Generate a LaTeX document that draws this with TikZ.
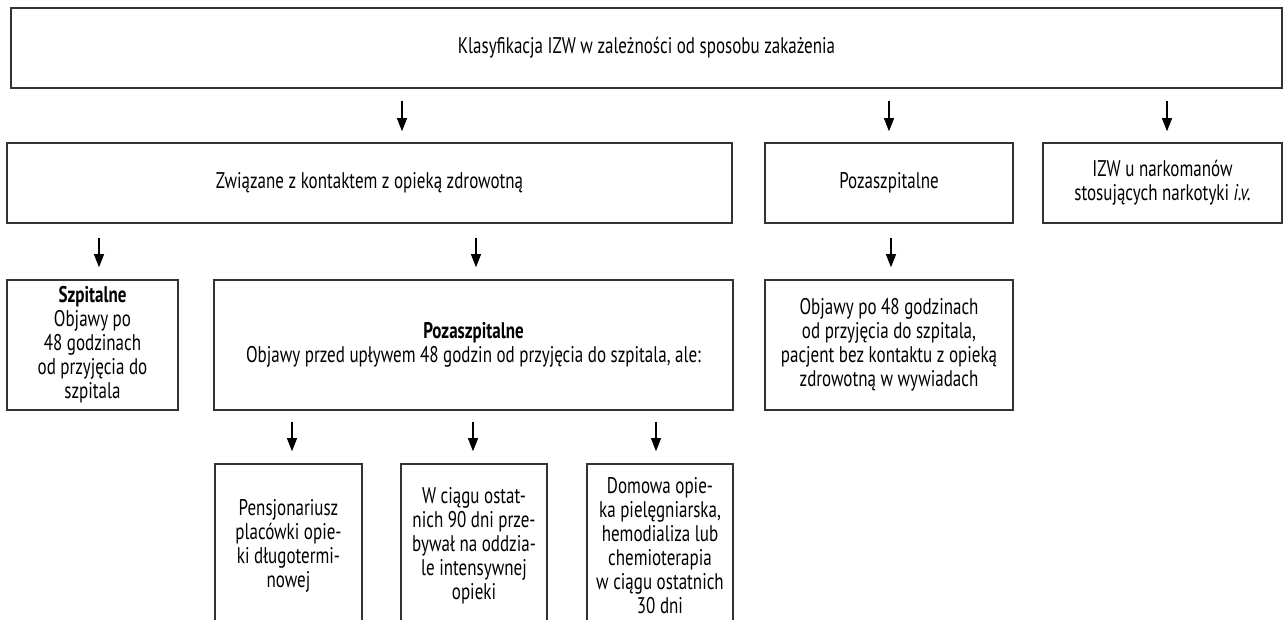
\documentclass[tikz,border=0pt]{standalone}
\usepackage{fontspec}
\setmainfont[FakeStretch=0.75]{PT Sans}
\usetikzlibrary{arrows.meta}
\definecolor{edge}{HTML}{333333}
\tikzset{
  box/.style={draw=edge, line width=1pt, rectangle, align=center, inner sep=2pt,
    font=\fontsize{17}{18}\selectfont, text=black},
  arr/.style={draw=black, line width=1.2pt, -{Triangle[length=10pt,width=7.5pt]}},
}
\begin{document}
\begin{tikzpicture}[x=0.75pt,y=-0.75pt]
\useasboundingbox (0,0) rectangle (1286,619);
\clip (0,0) rectangle (1286,619);
% row 1
\node[box, minimum width=953.25pt, minimum height=60pt] (top) at (646.5,48)
  {Klasyfikacja IZW w zależności od sposobu zakażenia};
% row 2
\node[box, minimum width=543.75pt, minimum height=60pt] (A) at (369.5,183)
  {Związane z kontaktem z opieką zdrowotną};
\node[box, minimum width=186pt, minimum height=60pt] (B) at (889,183)
  {Pozaszpitalne};
\node[box, minimum width=179.25pt, minimum height=60pt] (C) at (1162.5,183)
  {IZW u narkomanów\\stosujących narkotyki \textit{i.v.}};
% row 3
\node[box, minimum width=128.25pt, minimum height=97.5pt] (szp) at (92.5,345)
  {\textbf{Szpitalne}\\Objawy po\\48 godzinach\\od przyjęcia do\\szpitala};
\node[box, minimum width=389.25pt, minimum height=97.5pt] (poza) at (473.5,345)
  {\textbf{Pozaszpitalne}\\Objawy przed upływem 48 godzin od przyjęcia do szpitala, ale:};
\node[box, minimum width=186pt, minimum height=97.5pt] (objB) at (889,345)
  {Objawy po 48 godzinach\\od przyjęcia do szpitala,\\pacjent bez kontaktu z opieką\\zdrowotną w wywiadach};
% row 4
\node[box, minimum width=110.25pt, minimum height=123pt] (d1) at (288.5,546)
  {Pensjonariusz\\placówki opie-\\ki długotermi-\\nowej};
\node[box, minimum width=109.5pt, minimum height=123pt] (d2) at (474,546)
  {W ciągu ostat-\\nich 90 dni prze-\\bywał na oddzia-\\le intensywnej\\opieki};
\node[box, minimum width=109.5pt, minimum height=123pt] (d3) at (660,546)
  {Domowa opie-\\ka pielęgniarska,\\hemodializa lub\\chemioterapia\\w ciągu ostatnich\\30 dni};
% arrow x positions
\coordinate (x1) at (402,0);
\coordinate (x2) at (889,0);
\coordinate (x3) at (1167,0);
\coordinate (x4) at (99,0);
\coordinate (x5) at (476,0);
\coordinate (x6) at (891,0);
\coordinate (x7) at (292,0);
\coordinate (x8) at (473,0);
\coordinate (x9) at (656,0);
% arrows
\draw[arr, shorten <=9pt, shorten >=8.25pt] (x1 |- top.south) -- (x1 |- A.north);
\draw[arr, shorten <=9pt, shorten >=8.25pt] (x2 |- top.south) -- (x2 |- B.north);
\draw[arr, shorten <=9pt, shorten >=8.25pt] (x3 |- top.south) -- (x3 |- C.north);
\draw[arr, shorten <=10.5pt, shorten >=9pt] (x4 |- A.south) -- (x4 |- szp.north);
\draw[arr, shorten <=10.5pt, shorten >=9pt] (x5 |- A.south) -- (x5 |- poza.north);
\draw[arr, shorten <=10.5pt, shorten >=9pt] (x6 |- B.south) -- (x6 |- objB.north);
\draw[arr, shorten <=8.25pt, shorten >=9pt] (x7 |- poza.south) -- (x7 |- d1.north);
\draw[arr, shorten <=8.25pt, shorten >=9pt] (x8 |- poza.south) -- (x8 |- d2.north);
\draw[arr, shorten <=8.25pt, shorten >=9pt] (x9 |- poza.south) -- (x9 |- d3.north);
\end{tikzpicture}
\end{document}
